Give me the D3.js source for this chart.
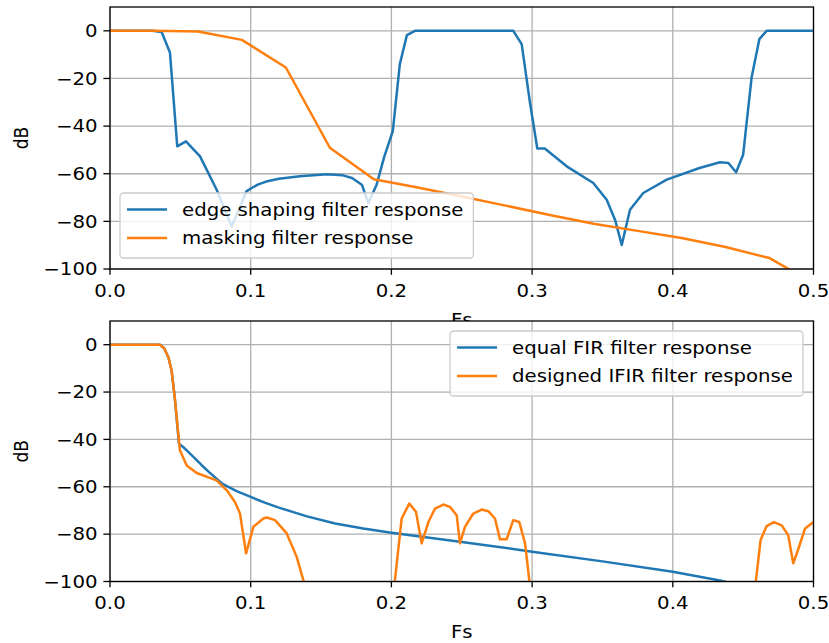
<!DOCTYPE html>
<html><head><meta charset="utf-8">
<script src="https://cdn.jsdelivr.net/npm/d3@7"></script>
<style>
body{margin:0;background:#fff}
svg{display:block}
text{font-family:"DejaVu Sans",sans-serif;fill:#000}
</style>
</head><body>
<svg id="c" width="829" height="643"></svg>
<script>
// ---------- data ----------
const xTicks = [0, 0.1, 0.2, 0.3, 0.4, 0.5];
const xTickLabels = ["0.0", "0.1", "0.2", "0.3", "0.4", "0.5"];
const yTicks = [0, -20, -40, -60, -80, -100];
const yTickLabels = ["0", "−20", "−40", "−60", "−80", "−100"];

// top panel: edge shaping filter
const edgeFs = [0, 0.01, 0.02, 0.03, 0.0367, 0.0426, 0.0478, 0.054, 0.064, 0.0758, 0.0865, 0.097, 0.1, 0.105, 0.111, 0.12, 0.135, 0.154, 0.165, 0.172, 0.179, 0.1836, 0.1895, 0.195, 0.201, 0.206, 0.211, 0.2168, 0.25, 0.2866, 0.2926, 0.2985, 0.3037, 0.309, 0.3246, 0.3435, 0.353, 0.359, 0.3637, 0.3696, 0.379, 0.3957, 0.419, 0.4335, 0.4395, 0.445, 0.450, 0.456, 0.4615, 0.4667, 0.5];
const edgeDb = [0, 0, 0, 0, -0.5, -9.1, -48.5, -46.4, -52.7, -66.7, -82.2, -67.4, -66.2, -64.6, -63.3, -62.1, -61.1, -60.2, -60.6, -61.8, -64.6, -72.3, -64.6, -52.7, -42.1, -14, -1.8, 0, 0, 0, -5.6, -30.2, -49.4, -49.4, -56.9, -63.9, -70.9, -79.4, -89.9, -75.1, -68.1, -62.5, -57.6, -55.2, -55.5, -59.4, -52, -19.6, -3.5, 0, 0];

// top panel: masking filter
const maskFs = [0, 0.03125, 0.0625, 0.09375, 0.125, 0.15625, 0.1875, 0.21875, 0.25, 0.28125, 0.3125, 0.34375, 0.375, 0.40625, 0.4375, 0.46875, 0.5];
const maskDb = [0, 0, -0.3, -3.8, -15.4, -49.1, -62.3, -65.8, -69.6, -73.4, -77.3, -81, -84, -87, -90.8, -95.4, -106];

// bottom panel: equal FIR
const firFs = [0, 0.01, 0.02, 0.03, 0.0355, 0.0385, 0.0415, 0.0438, 0.046, 0.049, 0.052, 0.056, 0.06, 0.065, 0.07, 0.08, 0.09, 0.1, 0.11, 0.12, 0.14, 0.16, 0.18, 0.2, 0.25, 0.3, 0.35, 0.4, 0.4335, 0.45, 0.5];
const firDb = [0, 0, 0, 0, 0, -1.5, -5.3, -11, -22.2, -41.8, -43.2, -45.5, -47.8, -50.8, -53.6, -58.8, -61.8, -64.3, -66.7, -68.8, -72.5, -75.5, -77.6, -79.4, -83.3, -87.4, -91.5, -95.9, -99.6, -102, -108];

// bottom panel: designed IFIR
const ifirFs = [0, 0.01, 0.02, 0.03, 0.0355, 0.0385, 0.0415, 0.0438, 0.046, 0.0497, 0.0545, 0.0616, 0.0758, 0.083, 0.0888, 0.0924, 0.0967, 0.1019, 0.109, 0.1114, 0.1173, 0.1256, 0.1327, 0.1374, 0.14, 0.2, 0.2026, 0.2073, 0.2127, 0.2175, 0.2215, 0.2263, 0.231, 0.2369, 0.2416, 0.2464, 0.2487, 0.2523, 0.2582, 0.2642, 0.2689, 0.2736, 0.2772, 0.2819, 0.2866, 0.2909, 0.295, 0.298, 0.3, 0.457, 0.4591, 0.4624, 0.4667, 0.4719, 0.4774, 0.482, 0.4856, 0.489, 0.494, 0.5];
const ifirDb = [0, 0, 0, 0, 0, -1.5, -5.3, -11, -22.2, -44.6, -51, -54.2, -57.3, -61.5, -66.4, -71.3, -88.1, -76.9, -73.4, -73, -74.1, -79.7, -89.6, -99.4, -107, -107, -99, -73.4, -67.1, -70.6, -83.9, -74.9, -69.2, -67.5, -68.5, -72, -83.9, -76.9, -71.3, -69.6, -70.3, -73.4, -82.2, -82.2, -74.1, -74.9, -83.9, -99.4, -110, -110, -99.4, -82.5, -76.6, -74.9, -76.3, -80.4, -92.3, -86.7, -77.6, -74.9];

// ---------- style ----------
const FS = 17, SX = 1.16;
const BLUE = "#1f77b4", ORANGE = "#ff7f0e";
const svg = d3.select("#c");

function txt(g, x, y, s, anchor, rot) {
  const t = g.append("text").text(s).attr("font-size", FS).attr("text-anchor", anchor || "start");
  if (rot) t.attr("transform", `translate(${x},${y}) rotate(-90) scale(1,${SX})`);
  else t.attr("transform", `translate(${x},${y}) scale(${SX},1)`);
  return t;
}

function panel(cfg, id) {
  const x = d3.scaleLinear().domain([0, 0.5]).range([110, 813.5]);
  const y = d3.scaleLinear().domain([-100, 10]).range([cfg.y1, cfg.y0]);
  const g = svg.append("g");
  g.append("rect").attr("x", 110).attr("y", cfg.y0).attr("width", 703.5).attr("height", cfg.y1 - cfg.y0).attr("fill", "#fff");
  g.append("clipPath").attr("id", id).append("rect").attr("x", 110).attr("y", cfg.y0).attr("width", 703.5).attr("height", cfg.y1 - cfg.y0);
  // grid
  g.selectAll(null).data(xTicks).enter().append("line")
    .attr("x1", d => x(d)).attr("x2", d => x(d)).attr("y1", cfg.y0).attr("y2", cfg.y1)
    .attr("stroke", "#b0b0b0").attr("stroke-width", 1.3);
  g.selectAll(null).data(yTicks).enter().append("line")
    .attr("x1", 110).attr("x2", 813.5).attr("y1", d => y(d)).attr("y2", d => y(d))
    .attr("stroke", "#b0b0b0").attr("stroke-width", 1.3);
  // lines
  const lg = g.append("g").attr("clip-path", `url(#${id})`);
  cfg.series.forEach(s => {
    const pts = s.fs.map((f, i) => [f, s.db[i]]);
    lg.append("path").datum(pts)
      .attr("d", d3.line().x(d => x(d[0])).y(d => y(d[1])))
      .attr("fill", "none").attr("stroke", s.color).attr("stroke-width", 2.5)
      .attr("stroke-linejoin", "round").attr("stroke-linecap", "square");
  });
  // spines
  g.append("rect").attr("x", 110).attr("y", cfg.y0).attr("width", 703.5).attr("height", cfg.y1 - cfg.y0)
    .attr("fill", "none").attr("stroke", "#000").attr("stroke-width", 1.3);
  // ticks
  xTicks.forEach((t, i) => {
    g.append("line").attr("x1", x(t)).attr("x2", x(t)).attr("y1", cfg.y1).attr("y2", cfg.y1 + 5.8).attr("stroke", "#000").attr("stroke-width", 1.3);
    txt(g, x(t), cfg.y1 + 27.7, xTickLabels[i], "middle");
  });
  yTicks.forEach((t, i) => {
    g.append("line").attr("x1", 110 - 6.6).attr("x2", 110).attr("y1", y(t)).attr("y2", y(t)).attr("stroke", "#000").attr("stroke-width", 1.3);
    txt(g, 97.5, y(t) + 6.2, yTickLabels[i], "end");
  });
  txt(g, 461.7, cfg.y1 + 56.5, "Fs", "middle");
  txt(g, 28, (cfg.y0 + cfg.y1) / 2, "dB", "middle", true);
  // legend
  const leg = g.append("g");
  const box = leg.append("rect").attr("fill", "#fff").attr("fill-opacity", 0.8)
    .attr("stroke", "#cccccc").attr("stroke-width", 1.3).attr("rx", 3.5);
  let maxW = 0;
  const lx = cfg.legend.x, ly = cfg.legend.y;
  const rows = cfg.series.map((s, i) => {
    const cy = i * 28.5;
    const ln = leg.append("line").attr("y1", cy).attr("y2", cy).attr("stroke", s.color).attr("stroke-width", 2.5);
    const t = txt(leg, 0, cy + 6, s.label, "start");
    maxW = Math.max(maxW, t.node().getComputedTextLength() * SX);
    return {ln, t, cy};
  });
  const bw = 62 + maxW + 10, bh = 65;
  const bx = cfg.legend.anchor === "right" ? lx - bw : lx;
  box.attr("x", bx).attr("y", ly).attr("width", bw).attr("height", bh);
  rows.forEach(r => {
    const cy = ly + 16.5 + r.cy;
    r.ln.attr("x1", bx + 7).attr("x2", bx + 47).attr("y1", cy).attr("y2", cy);
    r.t.attr("transform", `translate(${bx + 62},${cy + 6.2}) scale(${SX},1)`);
  });
}

panel({y0: 7, y1: 269,
  series: [
    {fs: edgeFs, db: edgeDb, color: BLUE, label: "edge shaping filter response"},
    {fs: maskFs, db: maskDb, color: ORANGE, label: "masking filter response"}],
  legend: {x: 120, y: 193, anchor: "left"}}, "clipTop");

panel({y0: 321, y1: 581.5,
  series: [
    {fs: firFs, db: firDb, color: BLUE, label: "equal FIR filter response"},
    {fs: ifirFs, db: ifirDb, color: ORANGE, label: "designed IFIR filter response"}],
  legend: {x: 803, y: 331, anchor: "right"}}, "clipBot");
</script>
</body></html>
